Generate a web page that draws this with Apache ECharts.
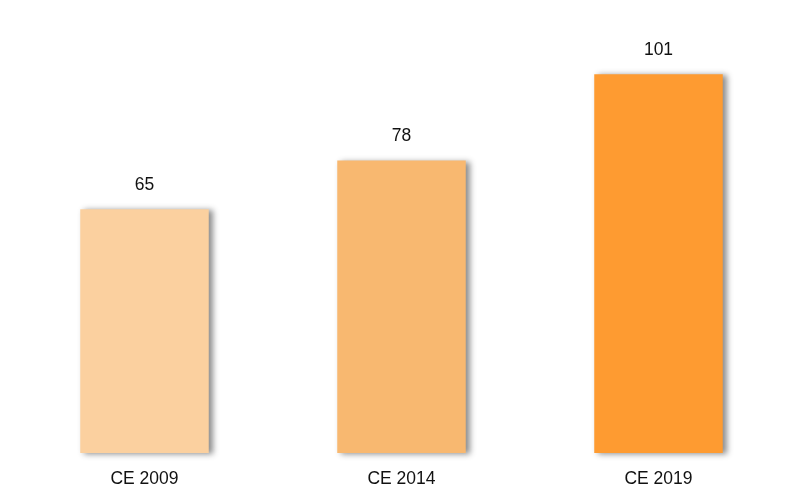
<!DOCTYPE html>
<html>
<head>
<meta charset="utf-8">
<script src="https://cdn.jsdelivr.net/npm/echarts@6/dist/echarts.min.js"></script>
<style>
  html, body { margin: 0; padding: 0; background: #fff; }
  #chart { width: 787px; height: 488px; }
</style>
</head>
<body>
<div id="chart"></div>
<script>
var categories = ['CE 2009', 'CE 2014', 'CE 2019'];
var values = [65, 78, 101];
var barColors = ['#FBD09F', '#F8B870', '#FE9B31'];

var chart = echarts.init(document.getElementById('chart'));

var option = {
  animation: false,
  grid: { left: 16, right: 0, top: 40.5, bottom: 35 },
  xAxis: {
    type: 'category',
    data: categories,
    axisLine: { show: false },
    axisTick: { show: false },
    axisLabel: {
      color: '#111',
      fontFamily: 'Liberation Sans, Arial, sans-serif',
      fontSize: 17.5,
      margin: 17
    }
  },
  yAxis: {
    type: 'value',
    min: 0,
    max: 110,
    show: false,
    splitLine: { show: false }
  },
  series: [{
    type: 'bar',
    barWidth: '50%',
    data: values.map(function (v, i) {
      return { value: v, itemStyle: { color: barColors[i] } };
    }),
    itemStyle: {
      shadowColor: 'rgba(0,0,0,0.45)',
      shadowBlur: 6,
      shadowOffsetX: 4,
      shadowOffsetY: 1
    },
    label: {
      show: true,
      position: 'top',
      distance: 15,
      color: '#111',
      fontFamily: 'Liberation Sans, Arial, sans-serif',
      fontSize: 17.5
    }
  }]
};

chart.setOption(option);
</script>
</body>
</html>
